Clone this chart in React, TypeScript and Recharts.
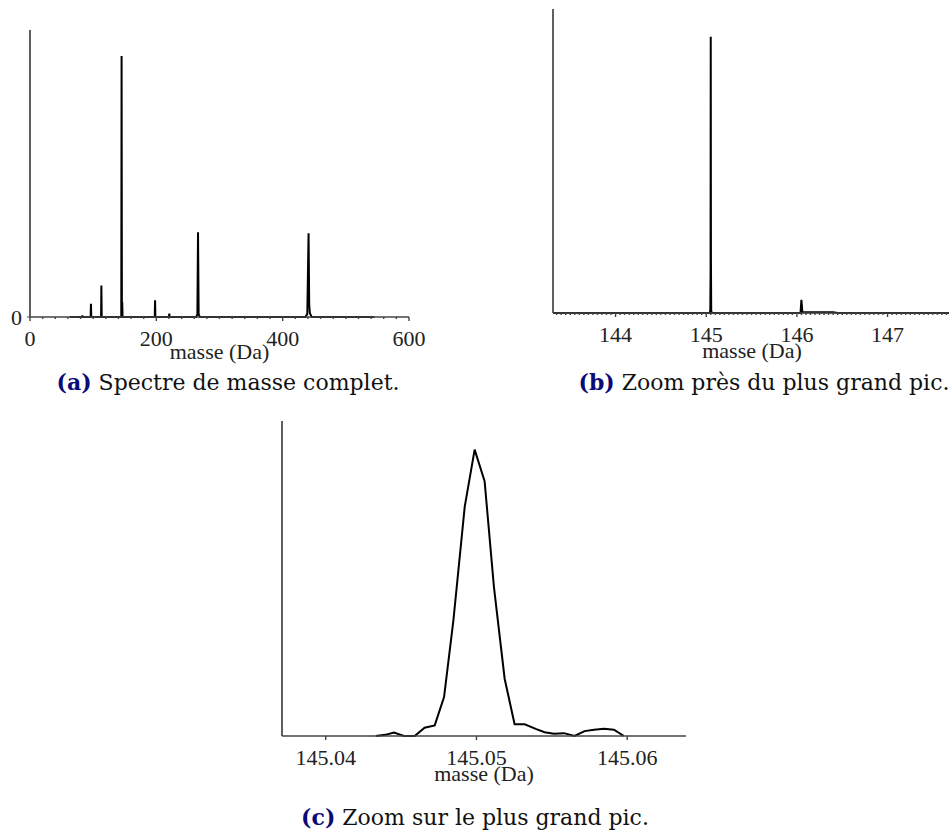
import React from 'react';
import { LineChart, Line, XAxis, YAxis, Label } from 'recharts';

// (a) spectre complet : masse (Da) / intensité relative
const massFull = [63, 82.5, 83, 83.5, 96, 96.5, 97, 112.5, 113, 113.5, 144.5, 145, 145.5, 146, 146.5, 197.5, 198, 198.5, 220, 220.5, 221, 263, 265, 266, 267, 269, 436, 439, 441, 442, 443, 446, 545];
const intensFull = [0, 0, 0.6, 0, 0, 5.1, 0, 0, 12.1, 0, 0, 100, 0.5, 5.7, 0, 0, 6.4, 0, 0, 1.3, 0, 0, 1, 32.5, 1, 0, 0, 1.2, 32.1, 5, 1.5, 0, 0];

// (b) zoom près du plus grand pic
const massZoom = [143.31, 145.04, 145.045, 145.048, 145.0499, 145.052, 145.055, 145.06, 146.04, 146.05, 146.06, 146.4, 146.45, 147.7];
const intensZoom = [0, 0, 1, 14, 100, 20, 1, 0, 0, 4.8, 0.4, 0.3, 0, 0];

// (c) zoom sur le plus grand pic
const massPeak = [145.04332, 145.04395, 145.04453, 145.04519, 145.0459, 145.04656, 145.04723, 145.04785, 145.04847, 145.04922, 145.04988, 145.05054, 145.05116, 145.05187, 145.05253, 145.0532, 145.05393, 145.05452, 145.05514, 145.0558, 145.05651, 145.05717, 145.0578, 145.05846, 145.05912, 145.05978];
const intensPeak = [0, 0.4, 1.2, 0, 0, 2.9, 3.7, 13.6, 40.4, 80.0, 100, 89.0, 52.0, 20.0, 4.1, 4.1, 2.5, 1.3, 0.8, 1.0, 0, 1.7, 2.2, 2.5, 2.2, 0];

const majorsFull = [0, 200, 400, 600];
const ticksFull = Array.from({ length: 31 }, (_, i) => i * 20);
const majorsZoom = [144, 145, 146, 147];
const ticksZoom = Array.from({ length: 87 }, (_, i) => 143.35 + i * 0.05);
const majorsPeak = [145.04, 145.05, 145.06];

const dataFull = massFull.map((m, i) => ({ m, v: intensFull[i] }));
const dataZoom = massZoom.map((m, i) => ({ m, v: intensZoom[i] }));
const dataPeak = massPeak.map((m, i) => ({ m, v: intensPeak[i] }));

const AXIS = '#444';
const TXT = '#222';
const SERIF = '"Liberation Serif", serif';

const MassTick = (props: any) => {
  const { x, y, payload, majors, digits } = props;
  const v = payload.value;
  const major = majors.some((m: number) => Math.abs(m - v) < 1e-6);
  return (
    <g>
      <line x1={x} x2={x} y1={y} y2={y + (major ? 4 : 2)} stroke={AXIS} strokeWidth={1.4} />
      {major && (
        <text x={x} y={y + 29} textAnchor="middle" fill={TXT} fontFamily="Liberation Serif" fontSize={22} style={{ fontFamily: SERIF, fontSize: 22 }}>
          {v.toFixed(digits)}
        </text>
      )}
    </g>
  );
};

function Spectrum({ data, width, height, top, right, yWidth, xHeight, domain, ticks, majors, digits, labelOffset, zeroTick }: any) {
  return (
    <LineChart width={width} height={height} data={data} margin={{ top, right, left: 0, bottom: 0 }} style={{ fontFamily: SERIF }}>
      <XAxis
        dataKey="m"
        type="number"
        domain={domain}
        ticks={ticks}
        interval={0}
        tickSize={0}
        tickMargin={0}
        tickLine={false}
        height={xHeight}
        axisLine={{ stroke: AXIS, strokeWidth: 1.7 }}
        tick={(p: any) => <MassTick {...p} majors={majors} digits={digits} />}
      >
        <Label value="masse (Da)" position="insideBottom" offset={labelOffset} style={{ fontSize: 22, fill: TXT, fontFamily: SERIF }} />
      </XAxis>
      <YAxis
        type="number"
        domain={[0, 110]}
        width={yWidth}
        ticks={zeroTick ? [0] : []}
        tick={zeroTick ? { fill: TXT, style: { fontFamily: SERIF, fontSize: 22 } } : false}
        tickLine={zeroTick ? { stroke: AXIS } : false}
        tickSize={3}
        tickMargin={5}
        axisLine={{ stroke: AXIS, strokeWidth: 1.7 }}
      />
      <Line type="linear" dataKey="v" stroke="#000" strokeWidth={2} dot={false} isAnimationActive={false} />
    </LineChart>
  );
}

const captionStyle: React.CSSProperties = {
  position: 'absolute',
  fontFamily: 'DejaVu Serif',
  fontSize: 22,
  lineHeight: '26px',
  textAlign: 'center',
  whiteSpace: 'nowrap',
  color: '#111',
};
const tag: React.CSSProperties = { color: '#0b0b78', fontWeight: 'bold' };

export default function App() {
  return (
    <div style={{ position: 'absolute', left: 0, top: 0, width: 949, height: 839, overflow: 'hidden', background: '#fff' }}>
      <div style={{ position: 'absolute', left: 0, top: 0 }}>
        <Spectrum data={dataFull} width={440} height={370} top={30} right={31} yWidth={30} xHeight={53} domain={[0, 600]} ticks={ticksFull} majors={majorsFull} digits={0} labelOffset={11} zeroTick />
      </div>
      <div style={{ position: 'absolute', left: 520, top: 0 }}>
        <Spectrum data={dataZoom} width={431} height={366} top={9} right={0} yWidth={33} xHeight={53} domain={[143.31, 147.7]} ticks={ticksZoom} majors={majorsZoom} digits={0} labelOffset={8} />
      </div>
      <div style={{ position: 'absolute', left: 250, top: 410 }}>
        <Spectrum data={dataPeak} width={436} height={381} top={11} right={0} yWidth={32} xHeight={55} domain={[145.0371, 145.0639]} ticks={majorsPeak} majors={majorsPeak} digits={2} labelOffset={10} />
      </div>
      <div style={{ ...captionStyle, left: 8, width: 440, top: 369 }}>
        <span style={tag}>(a)</span> Spectre de masse complet.
      </div>
      <div style={{ ...captionStyle, left: 564, width: 400, top: 369 }}>
        <span style={tag}>(b)</span> Zoom près du plus grand pic.
      </div>
      <div style={{ ...captionStyle, left: 275, width: 400, top: 804 }}>
        <span style={tag}>(c)</span> Zoom sur le plus grand pic.
      </div>
    </div>
  );
}
